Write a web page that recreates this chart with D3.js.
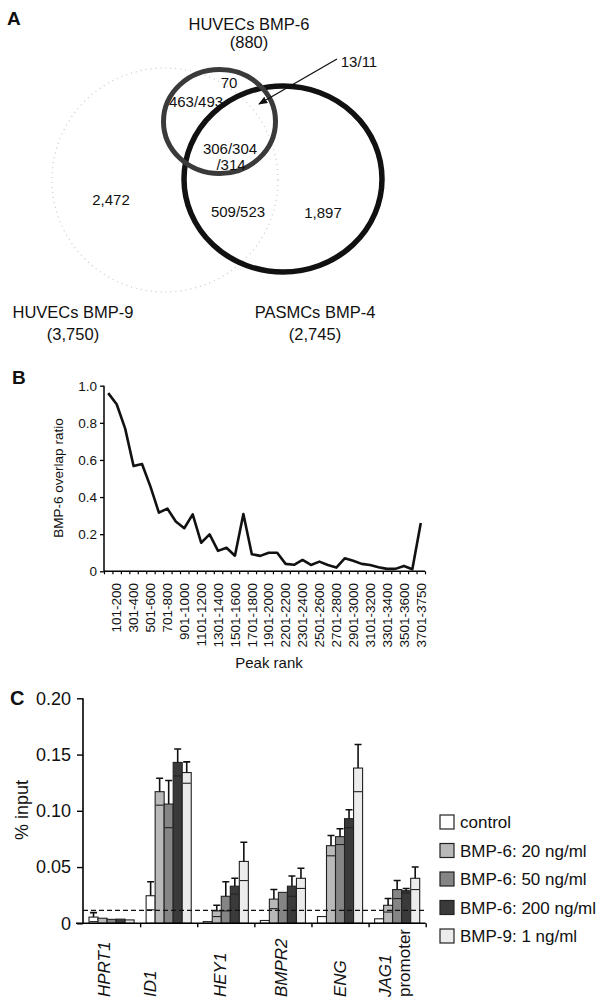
<!DOCTYPE html>
<meta charset="utf-8">
<script src="https://d3js.org/d3.v7.min.js"></script>
<style>
  body { margin: 0; background: #fff; }
  text { font-family: "Liberation Sans", Arial, Helvetica, sans-serif; fill: #111; }
</style>
<svg id="fig" width="598" height="999"></svg>
<script>
// ---------- data ----------
// panel A
const vennSets = ["HUVECs BMP-6", "HUVECs BMP-9", "PASMCs BMP-4"];
const vennTotals = ["(880)", "(3,750)", "(2,745)"];
const vennRegions = ["70", "463/493", "306/304", "/314", "2,472", "509/523", "1,897"];
const vennArrowLabel = "13/11";

// panel B
const peakRanks = ["1-100", "101-200", "201-300", "301-400", "401-500", "501-600", "601-700", "701-800",
  "801-900", "901-1000", "1001-1100", "1101-1200", "1201-1300", "1301-1400", "1401-1500", "1501-1600",
  "1601-1700", "1701-1800", "1801-1900", "1901-2000", "2001-2100", "2201-2200", "2201-2300", "2301-2400",
  "2401-2500", "2501-2600", "2601-2700", "2701-2800", "2801-2900", "2901-3000", "3001-3100", "3101-3200",
  "3201-3300", "3301-3400", "3401-3500", "3501-3600", "3601-3700", "3701-3750"];
const overlapRatio = [0.96, 0.90, 0.77, 0.567, 0.578, 0.456, 0.316, 0.338, 0.268, 0.232,
  0.307, 0.154, 0.199, 0.11, 0.127, 0.084, 0.309, 0.092, 0.083, 0.10,
  0.10, 0.04, 0.035, 0.061, 0.034, 0.052, 0.034, 0.02, 0.07, 0.057,
  0.04, 0.034, 0.022, 0.013, 0.013, 0.029, 0.011, 0.26];
const ratioTicks = [0, 0.2, 0.4, 0.6, 0.8, 1.0];

// panel C
const genes = ["HPRT1", "ID1", "HEY1", "BMPR2", "ENG", "JAG1 promoter"];
const treatments = ["control", "BMP-6: 20 ng/ml", "BMP-6: 50 ng/ml", "BMP-6: 200 ng/ml", "BMP-9: 1 ng/ml"];
const controlMean = [0.0055, 0.0245, 0.0015, 0.0025, 0.006, 0.004];
const bmp6_20Mean = [0.0045, 0.117, 0.011, 0.0215, 0.069, 0.016];
const bmp6_50Mean = [0.0035, 0.106, 0.024, 0.0275, 0.077, 0.030];
const bmp6_200Mean = [0.0037, 0.143, 0.033, 0.033, 0.093, 0.029];
const bmp9Mean = [0.003, 0.134, 0.055, 0.040, 0.138, 0.040];
const controlErr = [0.004, 0.0125, 0, 0, 0.0015, 0.0005];
const bmp6_20Err = [0.0008, 0.012, 0.005, 0.0085, 0.009, 0.006];
const bmp6_50Err = [0.0005, 0.021, 0.013, 0.0015, 0.007, 0.008];
const bmp6_200Err = [0.0005, 0.012, 0.007, 0.009, 0.008, 0.002];
const bmp9Err = [0.0005, 0.0095, 0.017, 0.009, 0.021, 0.010];
const inputTicks = [0, 0.05, 0.10, 0.15, 0.20];
const thresholdLine = 0.0115;

// small horizontal nudges of the gene names (layout only)
const geneLabelNudge = [-8, -19, -6, -2, 0, -3];

const svg = d3.select("#fig");

// ---------- panel A : venn ----------
const gA = svg.append("g");
gA.append("text").attr("x", 7).attr("y", 25).style("font-weight", "bold").style("font-size", "19px").text("A");

// circle layout: BMP-9 (faint, dotted), BMP-4 (large), BMP-6 (small)
const circles = [
  { set: 1, cx: 165, cy: 180, rx: 113, ry: 112, stroke: "#c8c8c8", w: 1.2, dash: "1,4" },
  { set: 2, cx: 283, cy: 179, rx: 99, ry: 93, stroke: "#111", w: 5.5, dash: null },
  { set: 0, cx: 219.5, cy: 121.5, rx: 56, ry: 52, stroke: "#3a3a3a", w: 5, dash: null }
];
gA.selectAll("ellipse").data(circles).join("ellipse")
  .attr("cx", d => d.cx).attr("cy", d => d.cy)
  .attr("rx", d => d.rx).attr("ry", d => d.ry)
  .attr("fill", "none")
  .attr("stroke", d => d.stroke)
  .attr("stroke-width", d => d.w)
  .attr("stroke-dasharray", d => d.dash);

const setLabelPos = [[249, 30, 48], [73, 318, 340], [315, 318, 340]];
vennSets.forEach((s, i) => {
  const p = setLabelPos[i];
  gA.append("text").attr("x", p[0]).attr("y", p[1]).attr("text-anchor", "middle")
    .style("font-size", "16.5px").text(s);
  gA.append("text").attr("x", p[0]).attr("y", p[2]).attr("text-anchor", "middle")
    .style("font-size", "16.5px").text(vennTotals[i]);
});

const regionPos = [[229, 88], [196, 107], [230, 154], [231, 170], [111, 205], [238, 217], [323, 218]];
gA.selectAll("text.region").data(vennRegions).join("text")
  .attr("class", "region")
  .attr("x", (d, i) => regionPos[i][0]).attr("y", (d, i) => regionPos[i][1])
  .attr("text-anchor", "middle").style("font-size", "15px").text(d => d);

// arrow for 13/11
svg.append("defs").append("marker")
  .attr("id", "arr").attr("viewBox", "0 0 10 10").attr("refX", 9).attr("refY", 5)
  .attr("markerWidth", 7).attr("markerHeight", 7).attr("orient", "auto")
  .append("path").attr("d", "M0,1 L10,5 L0,9 z").attr("fill", "#111");
gA.append("line").attr("x1", 337).attr("y1", 59).attr("x2", 259).attr("y2", 104)
  .attr("stroke", "#111").attr("stroke-width", 1.3).attr("marker-end", "url(#arr)");
gA.append("text").attr("x", 359).attr("y", 67).attr("text-anchor", "middle")
  .style("font-size", "15px").text(vennArrowLabel);

// ---------- panel B : line ----------
const gB = svg.append("g");
gB.append("text").attr("x", 12).attr("y", 384).style("font-weight", "bold").style("font-size", "19px").text("B");

const xB = d3.scaleBand().domain(d3.range(peakRanks.length)).range([104, 425]).padding(0);
const xBLin = d3.scaleLinear().domain([0, peakRanks.length]).range([104, 425]);
const yB = d3.scaleLinear().domain([0, 1]).range([571.3, 385.7]);

gB.append("g").attr("transform", "translate(0,571.3)")
  .call(d3.axisBottom(xBLin).tickValues(d3.range(0, peakRanks.length + 1)).tickSize(3).tickFormat(""))
  .call(g => g.select(".domain").attr("stroke-width", 1.5).attr("d", "M104,0H425"))
  .call(g => g.selectAll(".tick line").attr("stroke-width", 1.2));

gB.append("g").attr("transform", "translate(104,0)")
  .call(d3.axisLeft(yB).tickValues(ratioTicks).tickSize(4).tickFormat(d => d === 0 ? "0" : d3.format(".1f")(d)))
  .call(g => g.select(".domain").attr("stroke-width", 1.5).attr("d", "M0,385.7V571.3"))
  .call(g => g.selectAll(".tick line").attr("stroke-width", 1.3))
  .call(g => g.selectAll(".tick text").attr("x", -7).style("font-size", "13.5px")
    .style("font-family", "'Liberation Sans', Arial, sans-serif").attr("fill", "#111"));

gB.selectAll("text.rank").data(peakRanks.map((d, i) => ({ d, i })).filter(o => o.i % 2 === 1))
  .join("text").attr("class", "rank")
  .attr("transform", o => `translate(${xB(o.i) + xB.bandwidth() / 2},583) rotate(-90)`)
  .attr("dy", "0.35em").attr("text-anchor", "end")
  .style("font-size", "13.5px").text(o => o.d);

gB.append("path")
  .datum(overlapRatio)
  .attr("fill", "none").attr("stroke", "#111").attr("stroke-width", 2.6).attr("stroke-linejoin", "round")
  .attr("d", d3.line().x((d, i) => xB(i) + xB.bandwidth() / 2).y(d => yB(d)));

gB.append("text").attr("transform", "translate(63,478) rotate(-90)").attr("text-anchor", "middle")
  .style("font-size", "13.5px").text("BMP-6 overlap ratio");
gB.append("text").attr("x", 269).attr("y", 668).attr("text-anchor", "middle")
  .style("font-size", "15px").text("Peak rank");

// ---------- panel C : grouped bars ----------
const gC = svg.append("g");
gC.append("text").attr("x", 10).attr("y", 705).style("font-weight", "bold").style("font-size", "20px").text("C");

const series = [
  { name: treatments[0], mean: controlMean, err: controlErr, fill: "#ffffff" },
  { name: treatments[1], mean: bmp6_20Mean, err: bmp6_20Err, fill: "#b9b9b9" },
  { name: treatments[2], mean: bmp6_50Mean, err: bmp6_50Err, fill: "#858585" },
  { name: treatments[3], mean: bmp6_200Mean, err: bmp6_200Err, fill: "#3a3a3a" },
  { name: treatments[4], mean: bmp9Mean, err: bmp9Err, fill: "#ececec" }
];

const x0 = d3.scaleBand().domain(genes).range([83, 425.7]).padding(0);
const x1 = d3.scaleBand().domain(treatments).range([6, x0.bandwidth() - 6]).padding(0);
const yC = d3.scaleLinear().domain([0, 0.2]).range([923.3, 698.3]);

const bars = [];
genes.forEach((g, gi) => series.forEach(s => bars.push({ gene: g, t: s.name, v: s.mean[gi], e: s.err[gi], fill: s.fill })));

const bg = gC.selectAll("g.bar").data(bars).join("g").attr("class", "bar")
  .attr("transform", d => `translate(${x0(d.gene) + x1(d.t)},0)`);
bg.append("rect")
  .attr("x", 0).attr("width", x1.bandwidth())
  .attr("y", d => yC(d.v)).attr("height", d => yC(0) - yC(d.v))
  .attr("fill", d => d.fill).attr("stroke", "#222").attr("stroke-width", 1.1);
// lower whisker shows as a line across the bar
bg.filter(d => d.e > 0.0015).append("line")
  .attr("x1", 0.5).attr("x2", x1.bandwidth() - 0.5)
  .attr("y1", d => yC(d.v - d.e)).attr("y2", d => yC(d.v - d.e))
  .attr("stroke", "#222").attr("stroke-width", 1.1);
bg.filter(d => d.e > 0.0015).append("path")
  .attr("d", d => {
    const c = x1.bandwidth() / 2;
    return `M${c},${yC(d.v)}V${yC(d.v + d.e)}M${c - 3.5},${yC(d.v + d.e)}H${c + 3.5}`;
  })
  .attr("fill", "none").attr("stroke", "#111").attr("stroke-width", 1.6);

// axes
gC.append("g").attr("transform", "translate(0,923.3)")
  .call(d3.axisBottom(d3.scaleLinear().domain([0, 6]).range([83, 425.7])).tickValues(d3.range(1, 7)).tickSize(4).tickFormat(""))
  .call(g => g.select(".domain").attr("stroke-width", 1.6).attr("d", "M76,0H425.7"))
  .call(g => g.selectAll(".tick line").attr("stroke-width", 1.4));
gC.append("g").attr("transform", "translate(83,0)")
  .call(d3.axisLeft(yC).tickValues(inputTicks).tickSize(6).tickFormat(d => d === 0 ? "0" : d3.format(".2f")(d)))
  .call(g => g.select(".domain").attr("stroke-width", 1.6).attr("d", "M0,698.3V923.3"))
  .call(g => g.selectAll(".tick line").attr("stroke-width", 1.4))
  .call(g => g.selectAll(".tick text").attr("x", -12).style("font-size", "18px")
    .style("font-family", "'Liberation Sans', Arial, sans-serif").attr("fill", "#111"));

// threshold
gC.append("line").attr("x1", 83).attr("x2", 425.7).attr("y1", yC(thresholdLine)).attr("y2", yC(thresholdLine))
  .attr("stroke", "#111").attr("stroke-width", 1.3).attr("stroke-dasharray", "5,3");

gC.append("text").attr("transform", "translate(28,810) rotate(-90)").attr("text-anchor", "middle")
  .style("font-size", "18px").text("% input");

// gene labels (rotated, reading upward, bottom-aligned)
genes.forEach((g, gi) => {
  const lines = g.split(" ");
  const cx = x0(g) + x0.bandwidth() / 2 + geneLabelNudge[gi];
  lines.forEach((ln, li) => {
    gC.append("text")
      .attr("transform", `translate(${cx + (li - (lines.length - 1) / 2) * 19},997) rotate(-90)`)
      .attr("dy", "0.35em").attr("text-anchor", "start")
      .style("font-size", "17px").style("font-style", g.startsWith("JAG1") && li === 1 ? "normal" : "italic")
      .text(ln);
  });
});

// legend
const lg = gC.selectAll("g.leg").data(series).join("g").attr("class", "leg")
  .attr("transform", (d, i) => `translate(440,${822 + i * 28.5})`);
lg.append("rect").attr("x", 0).attr("y", -7).attr("width", 14).attr("height", 14)
  .attr("fill", d => d.fill).attr("stroke", "#222").attr("stroke-width", 1.2);
lg.append("text").attr("x", 20).attr("dy", "0.36em").style("font-size", "17px").text(d => d.name);
</script>
